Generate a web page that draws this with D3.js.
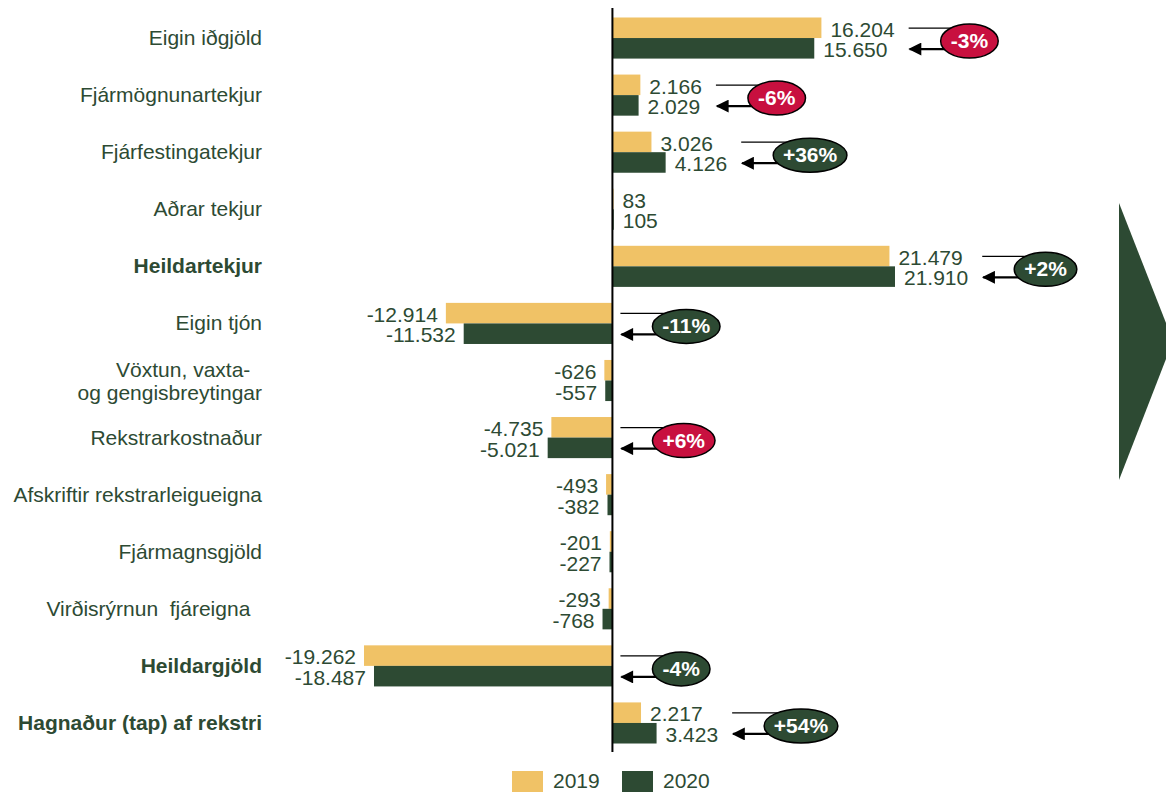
<!DOCTYPE html>
<html>
<head>
<meta charset="utf-8">
<script src="https://cdn.jsdelivr.net/npm/d3@7"></script>
<style>
  html, body { margin: 0; padding: 0; background: #fff; }
  svg { display: block; font-family: "Liberation Sans", Arial, sans-serif; }
  text { white-space: pre; }
</style>
</head>
<body>
<svg id="chart" width="1166" height="792"></svg>
<script>
const categories = [
  "Eigin iðgjöld",
  "Fjármögnunartekjur",
  "Fjárfestingatekjur",
  "Aðrar tekjur",
  "Heildartekjur",
  "Eigin tjón",
  "Vöxtun, vaxta-  \nog gengisbreytingar",
  "Rekstrarkostnaður",
  "Afskriftir rekstrarleigueigna",
  "Fjármagnsgjöld",
  "Virðisrýrnun  fjáreigna  ",
  "Heildargjöld",
  "Hagnaður (tap) af rekstri"
];
const boldCategories = ["Heildartekjur", "Heildargjöld", "Hagnaður (tap) af rekstri"];
const series = ["2019", "2020"];
const values2019 = [16204, 2166, 3026, 83, 21479, -12914, -626, -4735, -493, -201, -293, -19262, 2217];
const values2020 = [15650, 2029, 4126, 105, 21910, -11532, -557, -5021, -382, -227, -768, -18487, 3423];
const changeLabels = ["-3%", "-6%", "+36%", null, "+2%", "-11%", null, "+6%", null, null, null, "-4%", "+54%"];
const changeFavourable = [false, false, true, null, true, true, null, false, null, null, null, true, true];

const COL_2019 = "#F0C266";
const COL_2020 = "#2D4A33";
const COL_RED = "#C8103F";
const TEXT = "#2D4A33";
const FS = 21;

const svg = d3.select("#chart");
const fmt = d3.formatLocale({decimal: ",", thousands: ".", grouping: [3], currency: ["", ""], minus: "-"}).format(",d");

const x = d3.scaleLinear()
  .domain([d3.min(values2019.concat(values2020)), d3.max(values2019.concat(values2020))])
  .range([364, 895]);
const y = d3.scaleBand().domain(d3.range(categories.length)).range([9.5, 751.5]).paddingInner(0.28).paddingOuter(0.14);
const sub = d3.scaleBand().domain(series).range([0, y.bandwidth()]);

const x0 = x(0);
const rows = categories.map((c, i) => ({i, cat: c, v: [values2019[i], values2020[i]], center: y(i) + y.bandwidth() / 2}));

// bars
const g = svg.append("g");
rows.forEach(r => {
  series.forEach((s, k) => {
    const v = r.v[k];
    g.append("rect")
      .attr("x", Math.min(x(v), x0))
      .attr("y", y(r.i) + sub(s))
      .attr("width", Math.max(1, Math.abs(x(v) - x0)))
      .attr("height", sub.bandwidth())
      .attr("fill", k === 0 ? COL_2019 : COL_2020);
  });
});

// axis line
svg.append("line").attr("x1", x0).attr("x2", x0).attr("y1", 8).attr("y2", 752)
  .attr("stroke", "#000").attr("stroke-width", 2);

// category labels
rows.forEach(r => {
  const lines = r.cat.split("\n");
  const bold = boldCategories.includes(r.cat);
  const t = svg.append("text")
    .attr("text-anchor", "end")
    .attr("font-size", FS)
    .attr("font-weight", bold ? "bold" : "normal")
    .attr("fill", TEXT);
  if (lines.length === 1) {
    t.attr("x", 262).attr("y", r.center + 7).text(lines[0]);
  } else {
    lines.forEach((ln, j) => {
      t.append("tspan").attr("x", 262).attr("y", r.center + 1 + (j - 0.5) * 23 + 7).text(ln);
    });
  }
});

// value labels
const labelEnds = [];
rows.forEach(r => {
  let maxEnd = x0;
  series.forEach((s, k) => {
    const v = r.v[k];
    const yy = k === 0 ? r.center - 1.5 : r.center + 19;
    const t = svg.append("text")
      .attr("font-size", FS)
      .attr("fill", TEXT)
      .attr("y", yy)
      .text(fmt(v));
    if (v >= 0) {
      t.attr("x", x(v) + 9).attr("text-anchor", "start");
      maxEnd = Math.max(maxEnd, x(v) + 9 + t.node().getComputedTextLength());
    } else {
      t.attr("x", x(v) - 8).attr("text-anchor", "end");
    }
  });
  labelEnds.push(r.v[0] >= 0 ? maxEnd + 14 : x0 + 8);
});

// arrow marker (points along the line direction)
svg.append("defs").append("marker")
  .attr("id", "arrow").attr("viewBox", "0 0 10 10")
  .attr("refX", 9).attr("refY", 5)
  .attr("markerWidth", 15).attr("markerHeight", 13)
  .attr("markerUnits", "userSpaceOnUse")
  .attr("orient", "auto")
  .append("path").attr("d", "M0,0 L10,5 L0,10 Z").attr("fill", "#000");

// change bubbles
rows.forEach(r => {
  const lab = changeLabels[r.i];
  if (!lab) return;
  const start = labelEnds[r.i];
  const cy = r.center + 3;
  const tmp = svg.append("text").attr("font-size", 20).attr("font-weight", "bold").text(lab);
  const tw = tmp.node().getComputedTextLength();
  tmp.remove();
  const rx = tw / 2 + 11;
  const ry = 17;
  const cx = start + 32 + rx;
  svg.append("line").attr("x1", start).attr("x2", cx).attr("y1", r.center - 10).attr("y2", r.center - 10)
    .attr("stroke", "#000").attr("stroke-width", 1.2);
  svg.append("line").attr("x1", cx).attr("x2", start + 1).attr("y1", r.center + 11).attr("y2", r.center + 11)
    .attr("stroke", "#000").attr("stroke-width", 2.2)
    .attr("marker-end", "url(#arrow)");
  svg.append("ellipse").attr("cx", cx).attr("cy", cy).attr("rx", rx).attr("ry", ry)
    .attr("fill", changeFavourable[r.i] ? COL_2020 : COL_RED)
    .attr("stroke", "#000").attr("stroke-width", 1.5);
  svg.append("text").attr("x", cx).attr("y", cy + 7).attr("text-anchor", "middle")
    .attr("font-size", 21).attr("font-weight", "bold").attr("fill", "#fff").text(lab);
});

// right triangle
svg.append("polygon").attr("points", "1119,203 1119,480 1173,341").attr("fill", COL_2020);

// legend
const legend = svg.append("g");
series.forEach((s, k) => {
  const lx = 512 + k * 110;
  legend.append("rect").attr("x", lx).attr("y", 771).attr("width", 31).attr("height", 24)
    .attr("fill", k === 0 ? COL_2019 : COL_2020);
  legend.append("text").attr("x", lx + 41).attr("y", 788).attr("font-size", FS).attr("fill", TEXT).text(s);
});
</script>
</body>
</html>
